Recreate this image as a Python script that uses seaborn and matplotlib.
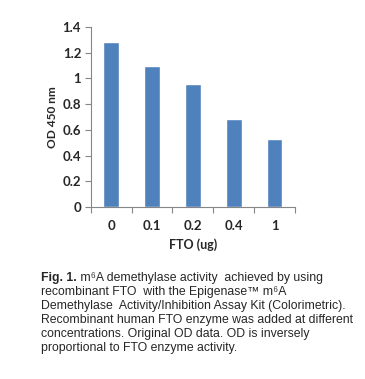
import matplotlib
matplotlib.use("Agg")
import matplotlib.pyplot as plt
import seaborn as sns
import numpy as np
import pandas as pd

# Data
fto_ug = ["0", "0.1", "0.2", "0.4", "1"]
od450 = [1.283, 1.096, 0.956, 0.687, 0.526]

caption_head = "Fig. 1."
caption_lines = [
    " m\u2076A demethylase activity  achieved by using",
    "recombinant FTO  with the Epigenase\u2122 m\u2076A",
    "Demethylase  Activity/Inhibition Assay Kit (Colorimetric).",
    "Recombinant human FTO enzyme was added at different",
    "concentrations. Original OD data. OD is inversely",
    "proportional to FTO enzyme activity.",
]

df = pd.DataFrame({"FTO": fto_ug, "OD": od450})

sns.set_style("white")
plt.rcParams['font.family'] = ['Lato', 'DejaVu Sans']
cap_family = ['Liberation Sans', 'DejaVu Sans']

fig = plt.figure(figsize=(3.65, 3.79), dpi=100)
ax = fig.add_axes([0.249, 0.4538, 0.559, 0.475])

sns.barplot(data=df, x="FTO", y="OD", order=fto_ug, color="#4F81BD",
            saturation=1, width=0.39, ax=ax)

ax.set_ylim(0, 1.4)
ax.set_yticks(np.arange(0, 1.41, 0.2))
ax.set_yticklabels(["0", "0.2", "0.4", "0.6", "0.8", "1", "1.2", "1.4"])
ax.set_xlim(-0.5, len(fto_ug) - 0.5)

# category boundary ticks on x axis
ax.set_xticks(np.arange(-0.5, len(fto_ug), 1.0), minor=True)
ax.tick_params(axis='x', which='major', length=0, pad=9, labelsize=9.5)
ax.tick_params(axis='x', which='minor', length=4, width=0.8, color="#868686", direction='out', bottom=True)
ax.tick_params(axis='y', length=4, width=0.8, color="#868686", direction='out', left=True, pad=3, labelsize=9.5)
for lab in ax.get_xticklabels() + ax.get_yticklabels():
    lab.set_fontweight('bold')

sns.despine(ax=ax)
for s in ['left', 'bottom']:
    ax.spines[s].set_color("#868686")
    ax.spines[s].set_linewidth(0.8)

ax.set_xlabel("FTO (ug)", fontsize=9, fontweight='bold', labelpad=5)
ax.set_ylabel("OD 450 nm", fontsize=8.6, fontweight='bold', labelpad=3)

# caption, one line at a time so spacing stays even
x0 = 41 / 365
renderer = fig.canvas.get_renderer()
head = fig.text(x0, 1 - 281.5 / 379, caption_head, ha='left', va='baseline',
                fontsize=8.8, family=cap_family, fontweight='bold')
head_w = head.get_window_extent(renderer).width / fig.bbox.width
for i, line in enumerate(caption_lines):
    x = x0 + head_w if i == 0 else x0
    fig.text(x, 1 - (281.5 + 14 * i) / 379, line, ha='left', va='baseline',
             fontsize=8.8, family=cap_family)

fig.savefig("out.png", dpi=100)
